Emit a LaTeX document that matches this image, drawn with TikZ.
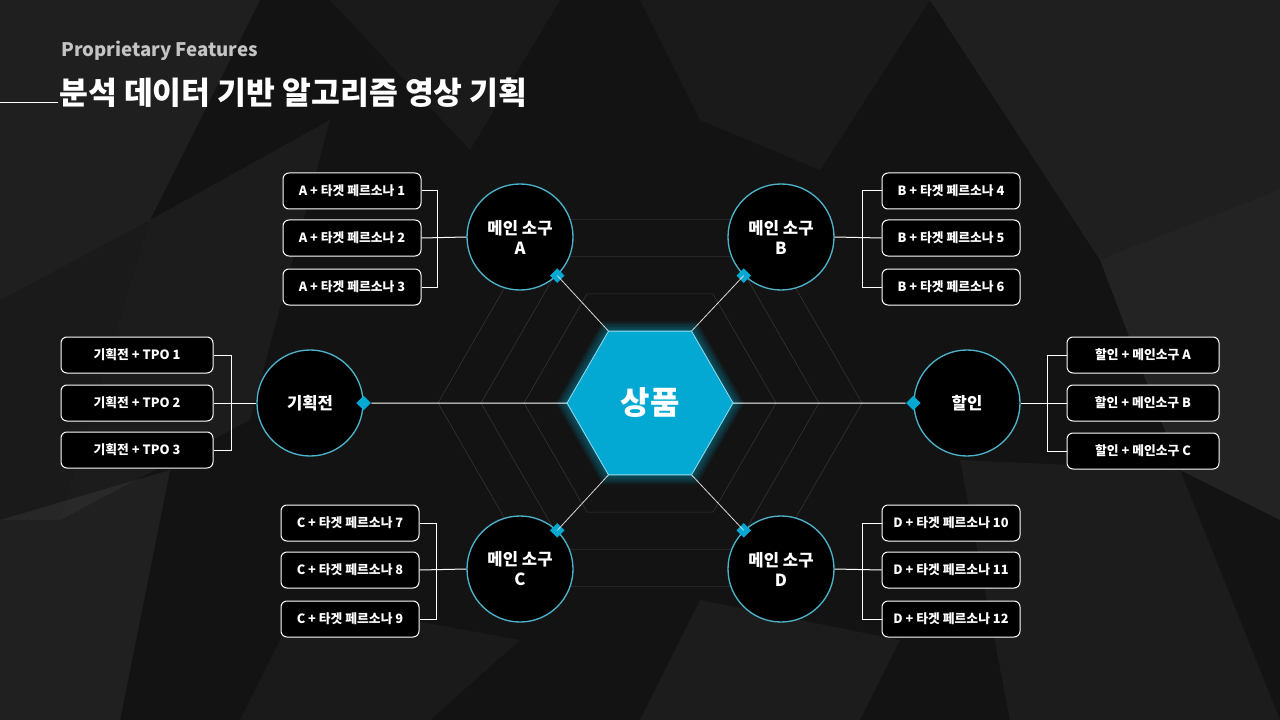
\documentclass[tikz,border=0pt]{standalone}
\usepackage{fontspec}
\setmainfont{Noto Sans CJK KR}
\usetikzlibrary{shapes.geometric}
\definecolor{bgdark}{HTML}{131313}
\definecolor{hexblue}{HTML}{03A9D2}
\definecolor{ringblue}{HTML}{4DB3CB}
\definecolor{subgray}{HTML}{C4C4C4}
\tikzset{
  featbox/.style={draw=white, line width=0.75pt, fill=black, rounded corners=4.5pt,
    minimum width=103.5pt, minimum height=27pt, inner sep=0pt, text=white,
    font=\fontsize{9.6}{10}\selectfont\bfseries},
  widebox/.style={featbox, minimum width=114pt},
  ring/.style={circle, draw=ringblue, line width=1pt, fill=black, minimum size=79.5pt,
    inner sep=0pt, text=white, align=center, font=\fontsize{12.5}{15}\selectfont\bfseries},
  dia/.style={diamond, fill=hexblue, minimum size=11pt, inner sep=0pt},
  conn/.style={draw=white, line width=0.75pt},
  spoke/.style={draw=white!85!black, line width=0.6pt},
  gridhex/.style={draw=white, opacity=0.13, line width=0.5pt},
}
\begin{document}
\begin{tikzpicture}[x=0.75pt,y=0.75pt,yscale=-1,xscale=1]
  \useasboundingbox (0,0) rectangle (1280,720);

  %Background
  \fill[bgdark] (0,0) rectangle (1280,720);
  \fill[white, opacity=0.05] (0,0) -- (260,0) -- (150,220) -- (0,300) -- cycle;
  \fill[white, opacity=0.04] (150,220) -- (330,120) -- (250,420) -- (60,520) -- cycle;
  \fill[white, opacity=0.03] (0,300) -- (150,220) -- (60,520) -- (0,520) -- cycle;
  \fill[white, opacity=0.06] (0,520) -- (170,470) -- (120,720) -- (0,720) -- cycle;
  \fill[white, opacity=0.03] (300,600) -- (520,640) -- (430,720) -- (240,720) -- cycle;
  \fill[white, opacity=0.05] (930,0) -- (1280,0) -- (1280,190) -- (1100,260) -- cycle;
  \fill[white, opacity=0.07] (1100,260) -- (1280,190) -- (1280,520) -- (1180,470) -- cycle;
  \fill[white, opacity=0.04] (960,460) -- (1180,470) -- (1280,720) -- (1010,720) -- cycle;
  \fill[white, opacity=0.03] (640,0) -- (930,0) -- (820,170) -- (700,120) -- cycle;
  \fill[white, opacity=0.04] (700,600) -- (900,640) -- (860,720) -- (640,720) -- cycle;
  \fill[white, opacity=0.03] (330,0) -- (560,0) -- (470,150) -- cycle;

  %Title
  \node[anchor=west, text=subgray, font=\fontsize{14}{16}\selectfont\bfseries, inner sep=0pt]
    (kicker) at (61,51) {Proprietary Features};
  \node[anchor=west, text=white, font=\fontsize{23.5}{26}\selectfont\bfseries, inner sep=0pt]
    (title) at (59,93) {분석 데이터 기반 알고리즘 영상 기획};
  \coordinate (rule) at (0,103);
  \draw[conn] (rule) -- ++(58,0);

  %Faint hexagon rings
  \coordinate (mid) at (650,403);
  \foreach \r in {126,169,212}
    \draw[gridhex] (mid) ++(0:\r) -- ++(120:\r) -- ++(180:\r) -- ++(240:\r) -- ++(300:\r) -- ++(0:\r) -- cycle;

  %Hexagon with glow
  \foreach \g in {1,...,7}
    \node[regular polygon, regular polygon sides=6, inner sep=0pt, outer sep=0pt,
      minimum size={(166+3.2*\g)*0.75pt}, fill=hexblue, opacity=0.07] at (mid) {};
  \node[regular polygon, regular polygon sides=6, inner sep=0pt, outer sep=0pt,
    minimum size=124.5pt, fill=hexblue, draw=white!60!hexblue, line width=0.6pt,
    text=white, font=\fontsize{24}{28}\selectfont\bfseries] (hex) at (mid) {상품};

  %Circles
  \node[ring] (cA) at (520,237) {메인 소구\\A};
  \node[ring] (cB) at (781,237) {메인 소구\\B};
  \node[ring] (cC) at (520,569) {메인 소구\\C};
  \node[ring] (cD) at (781,569) {메인 소구\\D};
  \node[ring] (cPlan) at (310,403) {기획전};
  \node[ring] (cSale) at (967,403) {할인};

  %Diamonds
  \node[dia] (dA) at (cA.-46) {};
  \node[dia] (dB) at (cB.-134) {};
  \node[dia] (dC) at (cC.46) {};
  \node[dia] (dD) at (cD.134) {};
  \node[dia] (dPlan) at (cPlan.east) {};
  \node[dia] (dSale) at (cSale.west) {};

  %Spokes
  \draw[spoke] (hex.120) -- (dA.center);
  \draw[spoke] (hex.60) -- (dB.center);
  \draw[spoke] (hex.240) -- (dC.center);
  \draw[spoke] (hex.300) -- (dD.center);
  \draw[conn] (hex.180) -- (dPlan);
  \draw[conn] (hex.0) -- (dSale);

  %Boxes
  \node[featbox] (a1) at (352,191) {A + 타겟 페르소나 1};
  \node[featbox] (a2) at (352,238) {A + 타겟 페르소나 2};
  \node[featbox] (a3) at (352,287) {A + 타겟 페르소나 3};
  \node[featbox] (b1) at (951,191) {B + 타겟 페르소나 4};
  \node[featbox] (b2) at (951,238) {B + 타겟 페르소나 5};
  \node[featbox] (b3) at (951,287) {B + 타겟 페르소나 6};
  \node[featbox] (c1) at (350,523) {C + 타겟 페르소나 7};
  \node[featbox] (c2) at (350,570) {C + 타겟 페르소나 8};
  \node[featbox] (c3) at (350,619) {C + 타겟 페르소나 9};
  \node[featbox] (d1) at (951,523) {D + 타겟 페르소나 10};
  \node[featbox] (d2) at (951,570) {D + 타겟 페르소나 11};
  \node[featbox] (d3) at (951,619) {D + 타겟 페르소나 12};
  \node[widebox] (p1) at (137,355) {기획전 + TPO 1};
  \node[widebox] (p2) at (137,403) {기획전 + TPO 2};
  \node[widebox] (p3) at (137,450) {기획전 + TPO 3};
  \node[widebox] (s1) at (1143,355) {할인 + 메인소구 A};
  \node[widebox] (s2) at (1143,403) {할인 + 메인소구 B};
  \node[widebox] (s3) at (1143,451) {할인 + 메인소구 C};

  %Brackets
  \draw[conn] (a1.east) -- ++(16,0) |- (a3.east);
  \draw[conn] (a2.east) -- (cA.west);
  \draw[conn] (b1.west) -- ++(-19,0) |- (b3.west);
  \draw[conn] (b2.west) -- (cB.east);
  \draw[conn] (c1.east) -- ++(17,0) |- (c3.east);
  \draw[conn] (c2.east) -- (cC.west);
  \draw[conn] (d1.west) -- ++(-19,0) |- (d3.west);
  \draw[conn] (d2.west) -- (cD.east);
  \draw[conn] (p1.east) -- ++(18,0) |- (p3.east);
  \draw[conn] (p2.east) -- (cPlan.west);
  \draw[conn] (s1.west) -- ++(-19,0) |- (s3.west);
  \draw[conn] (s2.west) -- (cSale.east);
\end{tikzpicture}
\end{document}
